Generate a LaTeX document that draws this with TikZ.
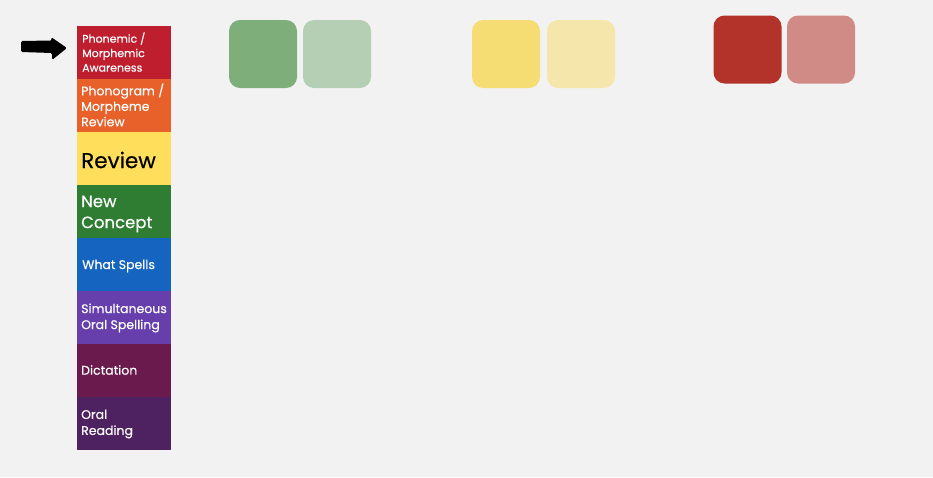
\documentclass[tikz,border=0pt]{standalone}
\usepackage{fontspec}
\setmainfont{Poppins}[FakeBold=0.35]
\definecolor{bg}{HTML}{F2F2F2}
\definecolor{cRed}{HTML}{BE1E2D}
\definecolor{cOrange}{HTML}{E8602A}
\definecolor{cYellow}{HTML}{FFDE5C}
\definecolor{cGreen}{HTML}{2E7D32}
\definecolor{cBlue}{HTML}{1565C0}
\definecolor{cPurple}{HTML}{673FAC}
\definecolor{cDict}{HTML}{6A1A4C}
\definecolor{cOral}{HTML}{4E2160}
\definecolor{sqGreenA}{HTML}{7EAE7A}
\definecolor{sqGreenB}{HTML}{B4CFB3}
\definecolor{sqYellowA}{HTML}{F5DC73}
\definecolor{sqYellowB}{HTML}{F5E6AB}
\definecolor{sqRedA}{HTML}{B3322A}
\definecolor{sqRedB}{HTML}{D08B86}
\begin{document}
\begin{tikzpicture}[x=1pt,y=-1pt,
  seg/.style={draw=none,minimum width=94pt,minimum height=53pt,inner sep=0pt,outer sep=0pt},
  lbl/.style={anchor=west,align=left,inner sep=0pt,text=white},
  sq/.style={draw=none,rounded corners=11pt,minimum width=68pt,minimum height=68pt,inner sep=0pt}]
\fill[bg] (0,0) rectangle (933,477);
\useasboundingbox (0,0) rectangle (933,477);
% strip segments
\node[seg,fill=cRed] (s1) at (123.5,52.5) {};
\node[seg,fill=cOrange] (s2) at (123.5,105.5) {};
\node[seg,fill=cYellow] (s3) at (123.5,158.5) {};
\node[seg,fill=cGreen] (s4) at (123.5,211.5) {};
\node[seg,fill=cBlue] (s5) at (123.5,264.5) {};
\node[seg,fill=cPurple] (s6) at (123.5,317.5) {};
\node[seg,fill=cDict] (s7) at (123.5,370.5) {};
\node[seg,fill=cOral] (s8) at (123.5,423.5) {};
% labels
\node[lbl,font=\fontsize{11}{14.5}\selectfont] (t1) at (82,52) {Phonemic /\\Morphemic\\Awareness};
\node[lbl,font=\fontsize{12.5}{15.5}\selectfont] (t2) at (81,105) {Phonogram /\\Morpheme\\Review};
\node[lbl,text=black,font=\fontsize{21.5}{24}\selectfont] (t3) at (81,160) {Review};
\node[lbl,font=\fontsize{16.5}{21}\selectfont] (t4) at (81,214) {New\\Concept};
\node[lbl,font=\fontsize{12.5}{16}\selectfont] (t5) at (82,266) {What Spells};
\node[lbl,font=\fontsize{12.5}{16}\selectfont] (t6) at (81,318) {Simultaneous\\Oral Spelling};
\node[lbl,font=\fontsize{12.5}{16}\selectfont] (t7) at (81,370) {Dictation};
\node[lbl,font=\fontsize{12.5}{16}\selectfont] (t8) at (81,424) {Oral\\Reading};
% arrow
\fill[black,rounded corners=1.5pt] (21,41) -- (52,40.5) -- (51,37) -- (67,48) -- (52,60) -- (52,53) -- (21,52) -- cycle;
% squares
\node[sq,fill=sqGreenA] (g1) at (263,54) {};
\node[sq,fill=sqGreenB] (g2) at (337,54) {};
\node[sq,fill=sqYellowA] (y1) at (506,54) {};
\node[sq,fill=sqYellowB] (y2) at (581,54) {};
\node[sq,fill=sqRedA] (r1) at (747.5,49.5) {};
\node[sq,fill=sqRedB] (r2) at (821,49.5) {};
\end{tikzpicture}
\end{document}
